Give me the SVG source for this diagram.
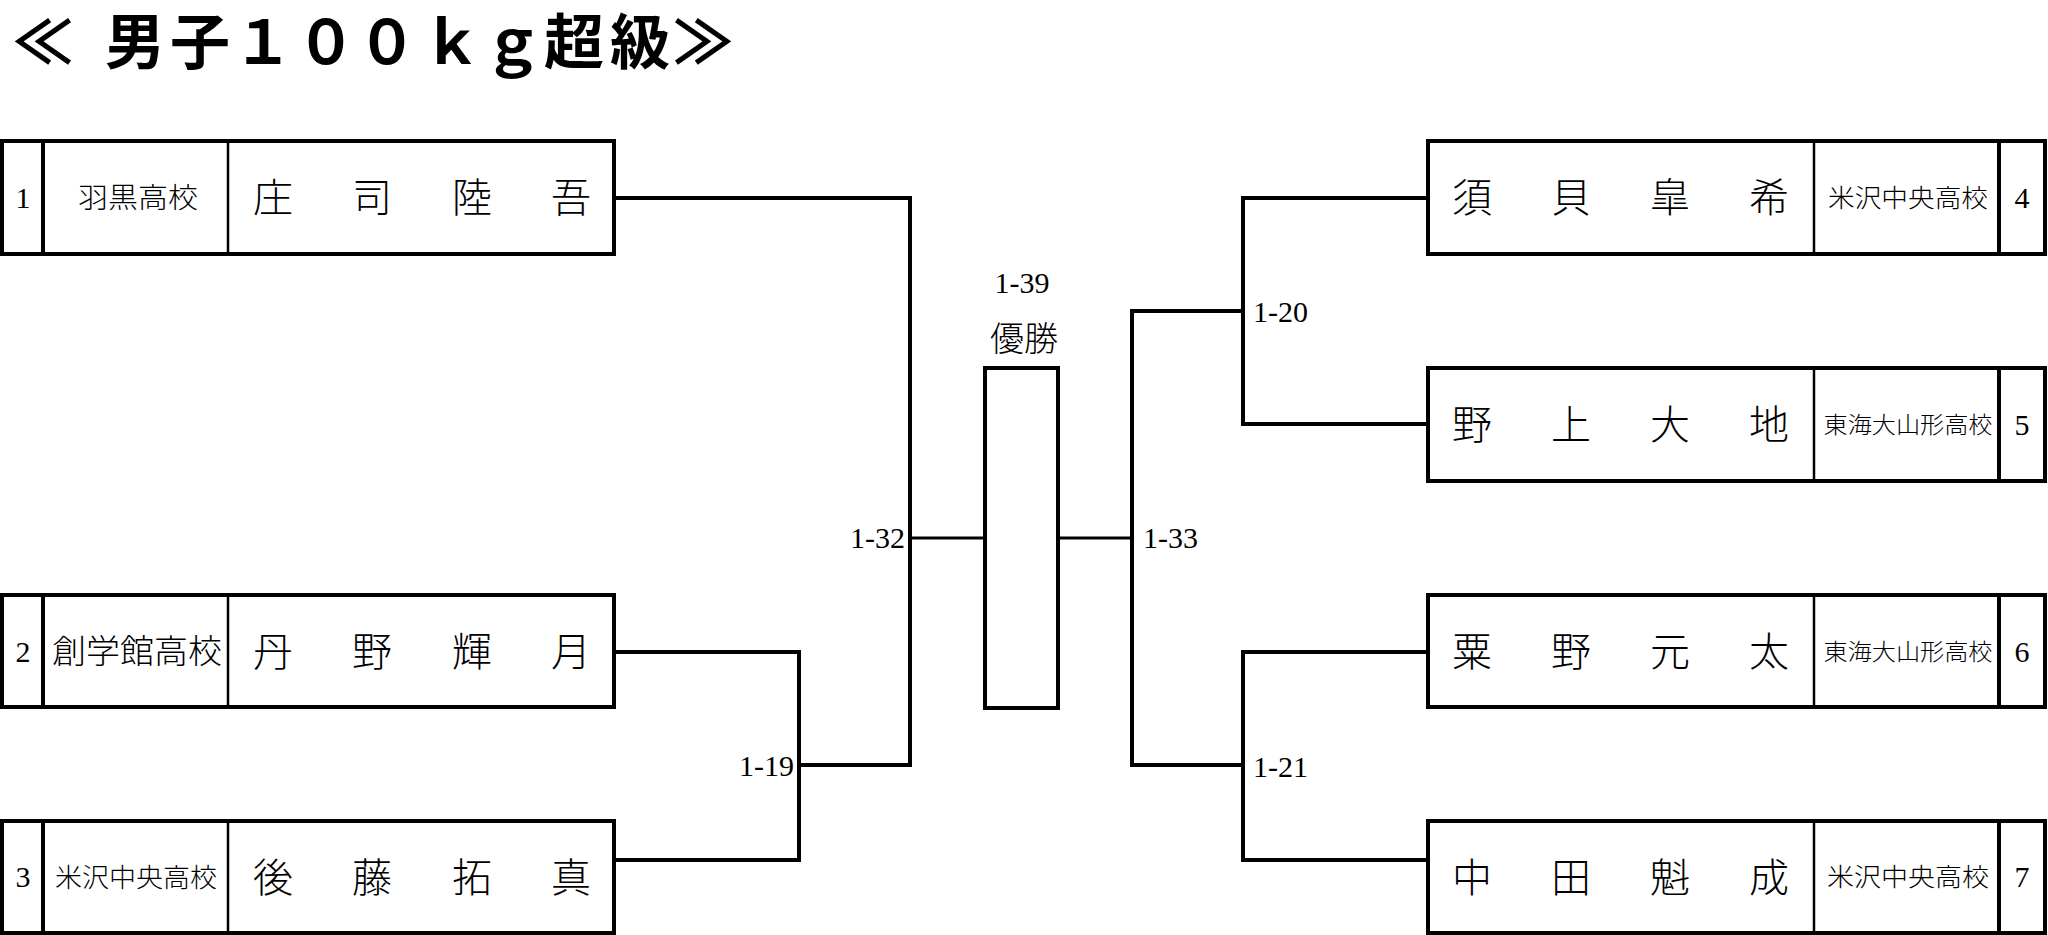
<svg xmlns="http://www.w3.org/2000/svg" width="2048" height="935" viewBox="0 0 2048 935">
<style>
.box{fill:#fff;stroke:#000;stroke-width:4}
.div4{stroke:#000;stroke-width:4}
.div2{stroke:#000;stroke-width:2.5}
.ln{fill:none;stroke:#000;stroke-width:4;stroke-linecap:square}
.ln3{fill:none;stroke:#000;stroke-width:3}
.num{font-family:"Liberation Serif","Noto Sans CJK JP",serif;font-size:30px;text-anchor:middle;fill:#000}
.lbl{font-family:"Liberation Serif","Noto Sans CJK JP",serif;font-size:30px;fill:#000}
.name{font-family:"Noto Sans CJK JP",sans-serif;font-size:40px;font-weight:300;text-anchor:middle;fill:#000}
.sch{font-family:"Noto Sans CJK JP",sans-serif;font-weight:300;text-anchor:middle;fill:#000}
.ttl{font-family:"Liberation Serif","Noto Sans CJK JP",serif;font-size:60px;font-weight:bold;text-anchor:middle;fill:#000}
</style>
<rect width="2048" height="935" fill="#fff"/>
<g id="title">
<text class="ttl" x="43 85 135 200 263 326 387 452 513 574 640 703" y="64">≪ 男子１００ｋｇ超級≫</text>
</g>
<g id="connectors">
<path class="ln" d="M614 198H910V765"/>
<path class="ln" d="M614 652H799V860H614"/>
<path class="ln" d="M799 765H910"/>
<path class="ln3" d="M910 538H985"/>
<path class="ln3" d="M1058 538H1132"/>
<path class="ln" d="M1428 198H1243V424H1428"/>
<path class="ln" d="M1243 311H1132V765H1243"/>
<path class="ln" d="M1428 652H1243V860H1428"/>
</g>
<g id="labels">
<text class="lbl" x="905" y="548" text-anchor="end">1-32</text>
<text class="lbl" x="794" y="776" text-anchor="end">1-19</text>
<text class="lbl" x="1143" y="548">1-33</text>
<text class="lbl" x="1253" y="322">1-20</text>
<text class="lbl" x="1253" y="777">1-21</text>
</g>
<g id="final">
<rect class="box" x="985" y="368" width="73" height="340"/>
<text class="lbl" x="1022" y="293" text-anchor="middle">1-39</text>
<text class="sch" x="1024" y="351" font-size="34">優勝</text>
</g>
<g id="p1">
<rect class="box" x="2" y="141" width="612" height="113"/>
<line class="div4" x1="43" y1="141" x2="43" y2="254"/>
<line class="div2" x1="228" y1="141" x2="228" y2="254"/>
<text class="num" x="23" y="208">1</text>
<text class="sch" x="138" y="208" font-size="28" textLength="120" lengthAdjust="spacingAndGlyphs">羽黒高校</text>
<text class="name" x="273 372 472 571" y="212">庄司陸吾</text>
</g>
<g id="p2">
<rect class="box" x="2" y="595" width="612" height="112"/>
<line class="div4" x1="43" y1="595" x2="43" y2="707"/>
<line class="div2" x1="228" y1="595" x2="228" y2="707"/>
<text class="num" x="23" y="662">2</text>
<text class="sch" x="137" y="663" font-size="33" textLength="170" lengthAdjust="spacingAndGlyphs">創学館高校</text>
<text class="name" x="273 372 472 571" y="666">丹野輝月</text>
</g>
<g id="p3">
<rect class="box" x="2" y="821" width="612" height="112"/>
<line class="div4" x1="43" y1="821" x2="43" y2="933"/>
<line class="div2" x1="228" y1="821" x2="228" y2="933"/>
<text class="num" x="23" y="887">3</text>
<text class="sch" x="136" y="887" font-size="26" textLength="162" lengthAdjust="spacingAndGlyphs">米沢中央高校</text>
<text class="name" x="273 372 472 571" y="892">後藤拓真</text>
</g>
<g id="p4">
<rect class="box" x="1428" y="141" width="617" height="113"/>
<line class="div2" x1="1814" y1="141" x2="1814" y2="254"/>
<line class="div4" x1="1999" y1="141" x2="1999" y2="254"/>
<text class="num" x="2022" y="208">4</text>
<text class="sch" x="1908" y="207" font-size="25" textLength="160" lengthAdjust="spacingAndGlyphs">米沢中央高校</text>
<text class="name" x="1472 1571 1670 1769" y="212">須貝皐希</text>
</g>
<g id="p5">
<rect class="box" x="1428" y="368" width="617" height="113"/>
<line class="div2" x1="1814" y1="368" x2="1814" y2="481"/>
<line class="div4" x1="1999" y1="368" x2="1999" y2="481"/>
<text class="num" x="2022" y="435">5</text>
<text class="sch" x="1908" y="433" font-size="23" textLength="169" lengthAdjust="spacingAndGlyphs">東海大山形高校</text>
<text class="name" x="1472 1571 1670 1769" y="439">野上大地</text>
</g>
<g id="p6">
<rect class="box" x="1428" y="595" width="617" height="112"/>
<line class="div2" x1="1814" y1="595" x2="1814" y2="707"/>
<line class="div4" x1="1999" y1="595" x2="1999" y2="707"/>
<text class="num" x="2022" y="662">6</text>
<text class="sch" x="1908" y="660" font-size="23" textLength="169" lengthAdjust="spacingAndGlyphs">東海大山形高校</text>
<text class="name" x="1472 1571 1670 1769" y="666">粟野元太</text>
</g>
<g id="p7">
<rect class="box" x="1428" y="821" width="617" height="112"/>
<line class="div2" x1="1814" y1="821" x2="1814" y2="933"/>
<line class="div4" x1="1999" y1="821" x2="1999" y2="933"/>
<text class="num" x="2022" y="887">7</text>
<text class="sch" x="1908" y="886" font-size="25" textLength="162" lengthAdjust="spacingAndGlyphs">米沢中央高校</text>
<text class="name" x="1472 1571 1670 1769" y="892">中田魁成</text>
</g>
</svg>
